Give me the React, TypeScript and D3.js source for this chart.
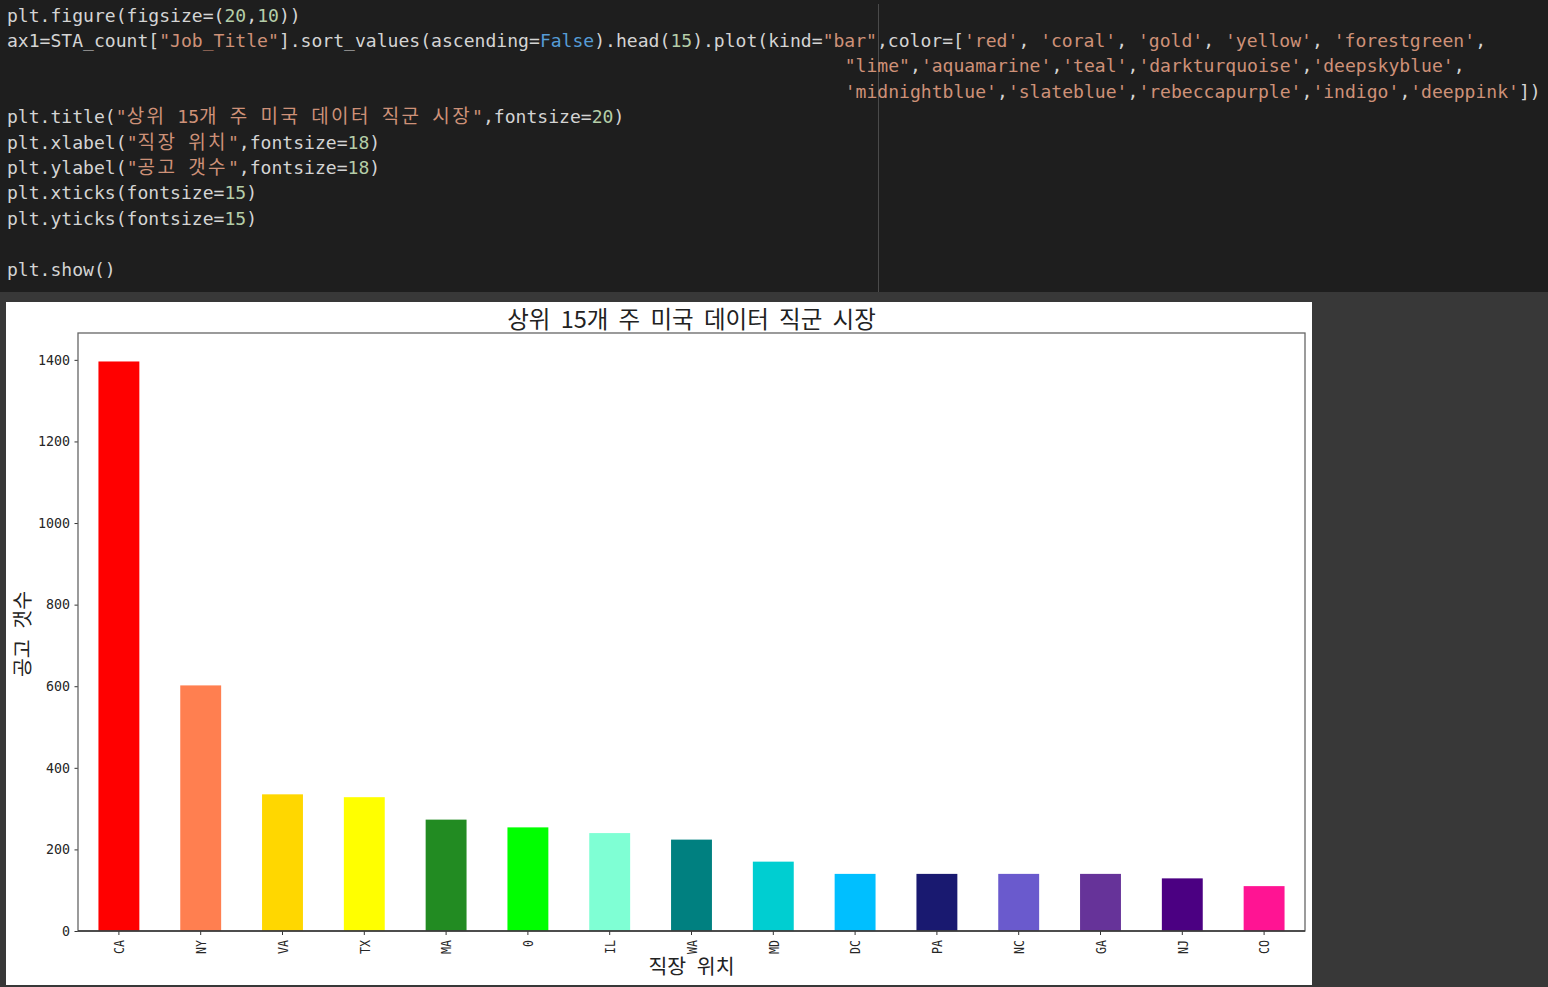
import React, { useEffect, useRef } from "react";
import * as d3 from "d3";

// top 15 states by job posting count
const states = ["CA", "NY", "VA", "TX", "MA", "0", "IL", "WA", "MD", "DC", "PA", "NC", "GA", "NJ", "CO"];
const jobCounts = [1396, 602, 335, 328, 273, 254, 240, 224, 170, 140, 140, 140, 140, 129, 110];
const barColors = [
  "red", "coral", "gold", "yellow", "forestgreen",
  "lime", "aquamarine", "teal", "darkturquoise", "deepskyblue",
  "midnightblue", "slateblue", "rebeccapurple", "indigo", "deeppink",
];
const yTicks = [0, 200, 400, 600, 800, 1000, 1200, 1400];

const chartTitle = "상위 15개 주 미국 데이터 직군 시장";
const xTitle = "직장 위치";
const yTitle = "공고 갯수";

// notebook cell shown above the plot
const codeLines = [
  'plt.figure(figsize=(20,10))',
  'ax1=STA_count["Job_Title"].sort_values(ascending=False).head(15).plot(kind="bar",color=[\'red\', \'coral\', \'gold\', \'yellow\', \'forestgreen\',',
  '"lime",\'aquamarine\',\'teal\',\'darkturquoise\',\'deepskyblue\',',
  '\'midnightblue\',\'slateblue\',\'rebeccapurple\',\'indigo\',\'deeppink\'])',
  'plt.title("상위 15개 주 미국 데이터 직군 시장",fontsize=20)',
  'plt.xlabel("직장 위치",fontsize=18)',
  'plt.ylabel("공고 갯수",fontsize=18)',
  'plt.xticks(fontsize=15)',
  'plt.yticks(fontsize=15)',
  '',
  'plt.show()',
];
const codeIndent = [0, 0, 77, 77, 0, 0, 0, 0, 0, 0, 0];

const W = 1548;
const H = 987;
const margin = { left: 78, right: 1305, top: 333, bottom: 931 };

const tokenColor = (tok) => {
  if (/^["']/.test(tok)) return "#ce9178";
  if (tok === "False") return "#569cd6";
  if (/^\d+$/.test(tok)) return "#b5cea8";
  return "#d4d4d4";
};

const App = () => {
  const svgRef = useRef(null);

  useEffect(() => {
    document.body.style.margin = "0";
    const svg = d3.select(svgRef.current);
    svg.selectAll("*").remove();

    // editor + output backgrounds
    svg.append("rect").attr("width", W).attr("height", H).attr("fill", "#383838");
    svg.append("rect").attr("width", W).attr("height", 292).attr("fill", "#1e1e1e");
    svg.append("line")
      .attr("x1", 878.5).attr("x2", 878.5).attr("y1", 4).attr("y2", 292)
      .attr("stroke", "#4a4a4a").attr("stroke-width", 1);

    const charW = 10.88;
    const code = svg.append("g")
      .attr("font-family", "'DejaVu Sans Mono', monospace")
      .attr("font-size", 18.07);
    codeLines.forEach((line, i) => {
      const t = code.append("text")
        .attr("x", 7 + codeIndent[i] * charW)
        .attr("y", 21.5 + i * 25.4)
        .style("white-space", "pre");
      const parts = line.split(/("[^"]*"|'[^']*'|\bFalse\b|\b\d+\b)/).filter((p) => p.length);
      parts.forEach((p) => {
        const fill = tokenColor(p);
        // hangul runs fall back to a wide CJK face
        p.split(/([\uac00-\ud7a3]+)/).filter((s) => s.length).forEach((s) => {
          const ts = t.append("tspan").attr("fill", fill).text(s);
          if (/[\uac00-\ud7a3]/.test(s)) {
            ts.attr("font-family", "'Noto Sans CJK KR', sans-serif")
              .attr("font-size", 19)
              .attr("letter-spacing", 2.4);
          }
        });
      });
    });

    // figure panel
    svg.append("rect").attr("x", 6).attr("y", 302).attr("width", 1306).attr("height", 683).attr("fill", "#fff");

    const x = d3.scaleBand()
      .domain(states)
      .range([margin.left, margin.right])
      .paddingInner(0.5)
      .paddingOuter(0.25);
    const y = d3.scaleLinear()
      .domain([0, d3.max(jobCounts) * 1.05])
      .range([margin.bottom, margin.top]);

    svg.append("g")
      .selectAll("rect")
      .data(states)
      .enter()
      .append("rect")
      .attr("x", (d) => x(d))
      .attr("width", x.bandwidth())
      .attr("y", (d, i) => y(jobCounts[i]))
      .attr("height", (d, i) => y(0) - y(jobCounts[i]))
      .attr("fill", (d, i) => barColors[i]);

    const yAxis = svg.append("g")
      .attr("transform", `translate(${margin.left},0)`)
      .call(d3.axisLeft(y).tickValues(yTicks).tickFormat(d3.format("d")).tickSize(3.5).tickPadding(4.5).tickSizeOuter(0));
    yAxis.select(".domain").remove();
    yAxis.selectAll("line").attr("stroke", "#333");
    yAxis.selectAll("text")
      .attr("fill", "#262626")
      .attr("font-family", "'DejaVu Sans Mono', monospace")
      .attr("font-size", 13.3);

    const xAxis = svg.append("g")
      .attr("transform", `translate(0,${margin.bottom})`)
      .call(d3.axisBottom(x).tickSize(4).tickSizeOuter(0));
    xAxis.select(".domain").remove();
    xAxis.selectAll("line").attr("stroke", "#333");
    xAxis.selectAll("text")
      .attr("y", null)
      .attr("dy", "0.36em")
      .attr("transform", "translate(0,9) rotate(-90) scale(0.8,1)")
      .attr("text-anchor", "end")
      .attr("fill", "#262626")
      .attr("font-family", "'DejaVu Sans Mono', monospace")
      .attr("font-size", 14.5);

    // frame
    svg.append("rect")
      .attr("x", margin.left).attr("y", margin.top)
      .attr("width", margin.right - margin.left)
      .attr("height", margin.bottom - margin.top)
      .attr("fill", "none").attr("stroke", "#666").attr("stroke-width", 1.3);
    svg.append("line")
      .attr("x1", margin.left).attr("x2", margin.right)
      .attr("y1", margin.bottom).attr("y2", margin.bottom)
      .attr("stroke", "#333").attr("stroke-width", 1.3);

    const cjk = "'Noto Sans CJK KR', sans-serif";
    svg.append("text")
      .attr("x", (margin.left + margin.right) / 2).attr("y", 328)
      .attr("text-anchor", "middle").attr("font-family", cjk).attr("font-size", 23.5)
      .attr("word-spacing", 5)
      .attr("fill", "#222").text(chartTitle);
    svg.append("text")
      .attr("x", (margin.left + margin.right) / 2).attr("y", 974)
      .attr("text-anchor", "middle").attr("font-family", cjk).attr("font-size", 20.5)
      .attr("word-spacing", 6)
      .attr("fill", "#222").text(xTitle);
    svg.append("text")
      .attr("transform", `translate(30,${(margin.top + margin.bottom) / 2 + 2}) rotate(-90)`)
      .attr("text-anchor", "middle").attr("font-family", cjk).attr("font-size", 20.5)
      .attr("word-spacing", 6)
      .attr("fill", "#222").text(yTitle);
  }, []);

  return (
    <div className="chart-container">
      <svg ref={svgRef} width={W} height={H} style={{ display: "block" }}></svg>
    </div>
  );
};

export default App;
